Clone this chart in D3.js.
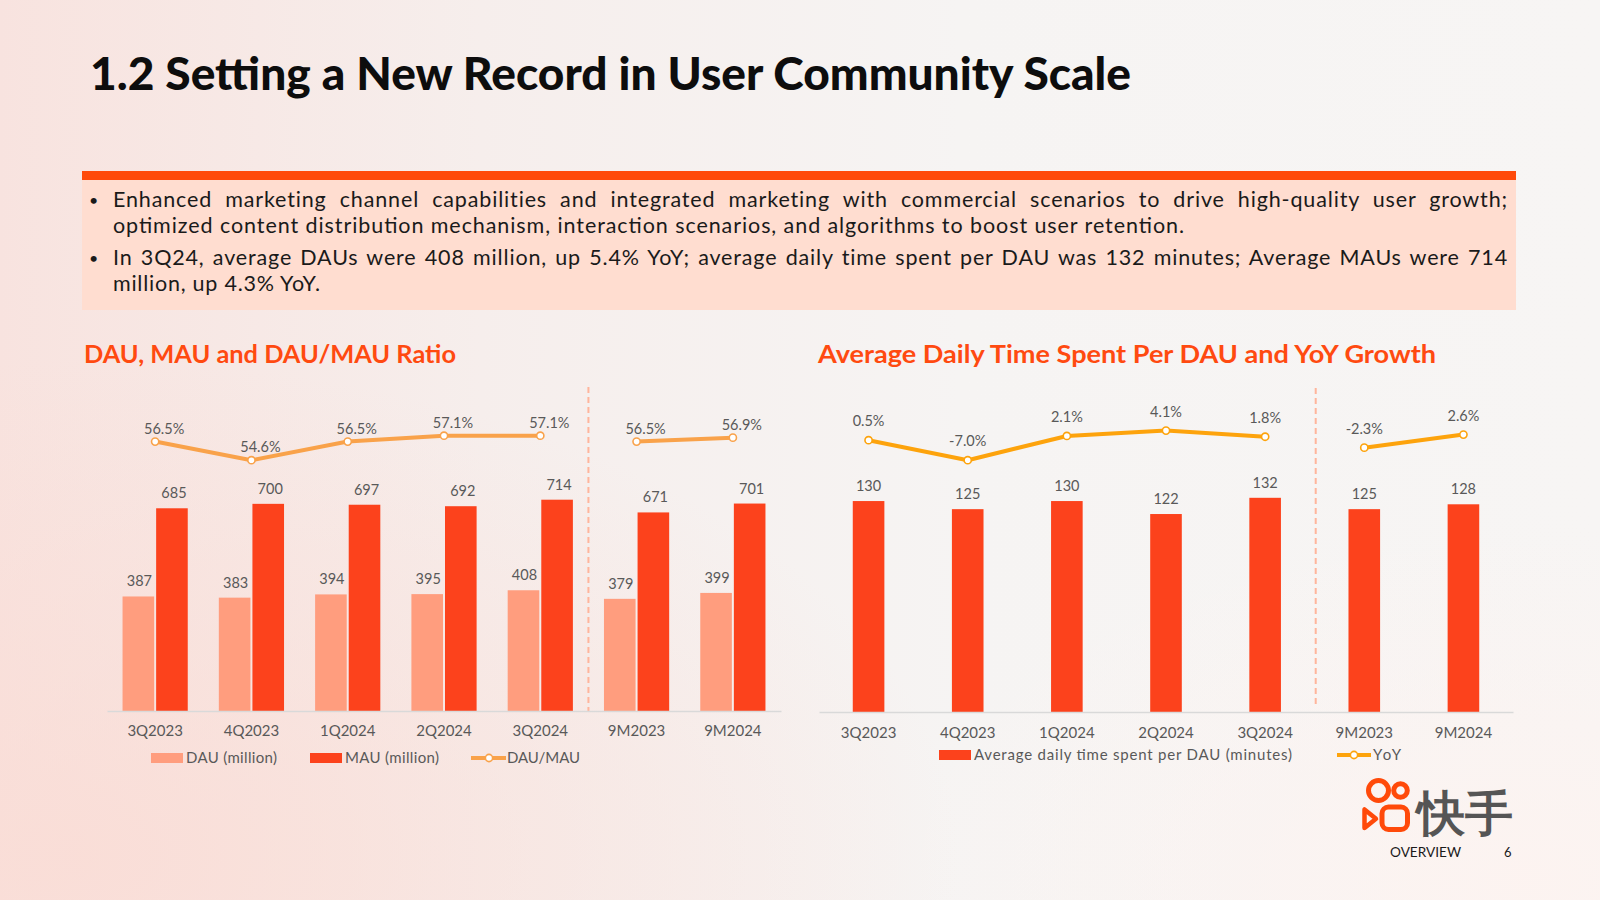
<!DOCTYPE html>
<html>
<head>
<meta charset="utf-8">
<script src="https://cdn.jsdelivr.net/npm/d3@7/dist/d3.min.js"></script>
<style>
  html, body { margin: 0; padding: 0; width: 1600px; height: 900px; overflow: hidden; background: #f6f3f2; }
  svg { display: block; }
  text { font-family: Lato, "Open Sans", "Noto Sans", sans-serif; }
</style>
</head>
<body>
<svg id="chart" width="1600" height="900"></svg>
<script>
// ---------------- DATA ----------------
const titleText = "1.2 Setting a New Record in User Community Scale";
const bulletLines = [
  ["Enhanced marketing channel capabilities and integrated marketing with commercial scenarios to drive high-quality user growth;",
   "optimized content distribution mechanism, interaction scenarios, and algorithms to boost user retention."],
  ["In 3Q24, average DAUs were 408 million, up 5.4% YoY; average daily time spent per DAU was 132 minutes; Average MAUs were 714",
   "million, up 4.3% YoY."]
];
const categories = ["3Q2023", "4Q2023", "1Q2024", "2Q2024", "3Q2024", "9M2023", "9M2024"];
const periodGroup = ["Q", "Q", "Q", "Q", "Q", "9M", "9M"];
const dauValues = [387, 383, 394, 395, 408, 379, 399];
const mauValues = [685, 700, 697, 692, 714, 671, 701];
const dauMauRatio = [56.5, 54.6, 56.5, 57.1, 57.1, 56.5, 56.9];
const timeSpentValues = [130, 125, 130, 122, 132, 125, 128];
const timeSpentYoY = [0.5, -7.0, 2.1, 4.1, 1.8, -2.3, 2.6];
const leftTitle = "DAU, MAU and DAU/MAU Ratio";
const rightTitle = "Average Daily Time Spent Per DAU and YoY Growth";
const leftLegend = ["DAU (million)", "MAU (million)", "DAU/MAU"];
const rightLegend = ["Average daily time spent per DAU (minutes)", "YoY"];

// ---------------- STYLE ----------------
const C = {
  dau: "#FF9D7E", mau: "#FC421C", lineL: "#F9A24A", lineR: "#FDA30C",
  text: "#595959", accent: "#FF4A10", bar: "#FF4A0A", box: "#FFDDD0",
  axis: "#D9D9D9", dash: "#FFB59C"
};

const svg = d3.select("#chart");
const defs = svg.append("defs");

// background
const bg = defs.append("linearGradient").attr("id", "bgL").attr("x1", 0).attr("x2", 1).attr("y1", 0).attr("y2", 0);
bg.append("stop").attr("offset", 0).attr("stop-color", "#F8E3DF");
bg.append("stop").attr("offset", 0.3).attr("stop-color", "#F6EEEC");
bg.append("stop").attr("offset", 0.6).attr("stop-color", "#F6F4F3");
bg.append("stop").attr("offset", 1).attr("stop-color", "#F7F5F4");
const rg = defs.append("radialGradient").attr("id", "bgR").attr("cx", 0.05).attr("cy", 0.95).attr("r", 0.55);
rg.append("stop").attr("offset", 0).attr("stop-color", "#FADCD5").attr("stop-opacity", 0.8);
rg.append("stop").attr("offset", 1).attr("stop-color", "#FADCD5").attr("stop-opacity", 0);
const rg2 = defs.append("radialGradient").attr("id", "bgR2").attr("cx", 0.95).attr("cy", 0.98).attr("r", 0.4);
rg2.append("stop").attr("offset", 0).attr("stop-color", "#FDF3F0").attr("stop-opacity", 0.9);
rg2.append("stop").attr("offset", 1).attr("stop-color", "#FDF3F0").attr("stop-opacity", 0);
svg.append("rect").attr("width", 1600).attr("height", 900).attr("fill", "url(#bgL)");
svg.append("rect").attr("width", 1600).attr("height", 900).attr("fill", "url(#bgR)");
svg.append("rect").attr("width", 1600).attr("height", 900).attr("fill", "url(#bgR2)");

// title
svg.append("text").attr("x", 90).attr("y", 90)
  .attr("font-size", 46).attr("font-weight", 900).attr("fill", "#0d0d0d")
  .attr("textLength", 1041).attr("lengthAdjust", "spacingAndGlyphs")
  .text(titleText);

// header band + box
svg.append("rect").attr("x", 82).attr("y", 171).attr("width", 1434).attr("height", 9).attr("fill", C.bar);
svg.append("rect").attr("x", 82).attr("y", 180).attr("width", 1434).attr("height", 130).attr("fill", C.box);

const lineYs = [[207, 232.5], [265, 290.5]];
const lastLineWidths = [1071, 207];
bulletLines.forEach((pair, i) => {
  svg.append("text").attr("x", 89).attr("y", lineYs[i][0] - 1).attr("font-size", 16).attr("fill", "#1a1a1a").text("•");
  pair.forEach((ln, j) => {
    const t = svg.append("text").attr("x", 113).attr("y", lineYs[i][j])
      .attr("font-size", 21.5).attr("fill", "#1a1a1a").style("letter-spacing", "0.85px").text(ln);
    if (j === 0) {
      const natural = t.node().getComputedTextLength();
      const spaces = (ln.match(/ /g) || []).length;
      t.style("word-spacing", ((1395 - natural) / spaces) + "px");
    } else {
      t.style("letter-spacing", null).attr("textLength", lastLineWidths[i]).attr("lengthAdjust", "spacing");
    }
  });
});

// chart titles
svg.append("text").attr("x", 84).attr("y", 363).attr("font-size", 25).attr("font-weight", 700)
  .attr("fill", C.accent).attr("textLength", 372).attr("lengthAdjust", "spacingAndGlyphs").text(leftTitle);
svg.append("text").attr("x", 818).attr("y", 363).attr("font-size", 25).attr("font-weight", 700)
  .attr("fill", C.accent).attr("textLength", 618).attr("lengthAdjust", "spacingAndGlyphs").text(rightTitle);

const idx = d3.range(categories.length);
const groups = d3.groups(idx, i => periodGroup[i]).map(g => g[1]);

function legendText(sel, x, y, txt, w) {
  return sel.append("text").attr("x", x).attr("y", y).attr("textLength", w).attr("lengthAdjust", "spacing").text(txt);
}

// ---------------- LEFT CHART ----------------
{
  const x = d3.scaleBand().domain(categories).range([107, 781]).padding(0);
  const y = d3.scaleLinear().domain([0, 714]).range([711, 499.7]);
  const yl = d3.scaleLinear().domain([54.6, 57.1]).range([460.2, 435.7]);
  const bw = 31.6, gap = 1;
  const g = svg.append("g");
  const cx = i => x(categories[i]) + x.bandwidth() / 2;

  g.append("line").attr("x1", x(categories[5])).attr("x2", x(categories[5]))
    .attr("y1", 387).attr("y2", 712).attr("stroke", C.dash).attr("stroke-width", 2).attr("stroke-dasharray", "6,4");

  g.selectAll(".dau").data(idx).join("rect")
    .attr("x", i => cx(i) - gap - bw).attr("width", bw)
    .attr("y", i => y(dauValues[i])).attr("height", i => y(0) - y(dauValues[i])).attr("fill", C.dau);
  g.selectAll(".mau").data(idx).join("rect")
    .attr("x", i => cx(i) + gap).attr("width", bw)
    .attr("y", i => y(mauValues[i])).attr("height", i => y(0) - y(mauValues[i])).attr("fill", C.mau);

  const lbl = { "font-size": 14.5, fill: C.text, "text-anchor": "middle" };
  const addText = (sel) => { Object.entries(lbl).forEach(([k, v]) => sel.attr(k, v)); return sel; };
  addText(g.selectAll(".dl").data(idx).join("text")
    .attr("x", i => cx(i) - gap - bw / 2 + 1).attr("y", i => y(dauValues[i]) - 10).text(i => dauValues[i]));
  addText(g.selectAll(".ml").data(idx).join("text")
    .attr("x", i => cx(i) + gap + bw / 2 + 2).attr("y", i => y(mauValues[i]) - 10).text(i => mauValues[i]));

  const axis = d3.axisBottom(x).tickSize(0).tickSizeOuter(0).tickPadding(14);
  const ax = g.append("g").attr("transform", "translate(0,711)").call(axis);
  ax.select(".domain").attr("stroke", C.axis).attr("stroke-width", 1.5);
  ax.selectAll("text").attr("font-size", 15).attr("fill", C.text).attr("font-family", "Lato, sans-serif");

  const line = d3.line().x(i => cx(i)).y(i => yl(dauMauRatio[i]));
  groups.forEach(gr => {
    g.append("path").attr("d", line(gr)).attr("fill", "none").attr("stroke", C.lineL)
      .attr("stroke-width", 4).attr("stroke-linejoin", "round");
  });
  g.selectAll(".pt").data(idx).join("circle")
    .attr("cx", i => cx(i)).attr("cy", i => yl(dauMauRatio[i])).attr("r", 3.6)
    .attr("fill", "#fff").attr("stroke", C.lineL).attr("stroke-width", 1.6);
  addText(g.selectAll(".rl").data(idx).join("text")
    .attr("x", i => cx(i) + 9).attr("y", i => yl(dauMauRatio[i]) - 8).text(i => dauMauRatio[i].toFixed(1) + "%"));

  const lg = g.append("g").attr("font-size", 15).attr("fill", C.text);
  lg.append("rect").attr("x", 151).attr("y", 753).attr("width", 32).attr("height", 10).attr("fill", C.dau);
  legendText(lg, 186, 763, leftLegend[0], 91);
  lg.append("rect").attr("x", 310).attr("y", 753).attr("width", 32).attr("height", 10).attr("fill", C.mau);
  legendText(lg, 345, 763, leftLegend[1], 94);
  lg.append("line").attr("x1", 471).attr("x2", 506).attr("y1", 758).attr("y2", 758).attr("stroke", C.lineL).attr("stroke-width", 4);
  lg.append("circle").attr("cx", 489).attr("cy", 758).attr("r", 3.6).attr("fill", "#fff").attr("stroke", C.lineL).attr("stroke-width", 1.6);
  legendText(lg, 507, 763, leftLegend[2], 73);
}

// ---------------- RIGHT CHART ----------------
{
  const x = d3.scaleBand().domain(categories).range([819, 1513]).padding(0);
  const y = d3.scaleLinear().domain([0, 132]).range([712, 497.8]);
  const yl = d3.scaleLinear().domain([-7.0, 4.1]).range([460.2, 430.6]);
  const bw = 31.6;
  const g = svg.append("g");
  const cx = i => x(categories[i]) + x.bandwidth() / 2;

  g.append("line").attr("x1", x(categories[5]) + 1).attr("x2", x(categories[5]) + 1)
    .attr("y1", 388).attr("y2", 705).attr("stroke", C.dash).attr("stroke-width", 2).attr("stroke-dasharray", "6,4");

  g.selectAll(".ts").data(idx).join("rect")
    .attr("x", i => cx(i) - bw / 2).attr("width", bw)
    .attr("y", i => y(timeSpentValues[i])).attr("height", i => y(0) - y(timeSpentValues[i])).attr("fill", C.mau);

  g.selectAll(".tl").data(idx).join("text")
    .attr("x", i => cx(i)).attr("y", i => y(timeSpentValues[i]) - 10)
    .attr("font-size", 14.5).attr("fill", C.text).attr("text-anchor", "middle").text(i => timeSpentValues[i]);

  const axis = d3.axisBottom(x).tickSize(0).tickSizeOuter(0).tickPadding(15);
  const ax = g.append("g").attr("transform", "translate(0,712)").call(axis);
  ax.select(".domain").attr("stroke", C.axis).attr("stroke-width", 1.5);
  ax.selectAll("text").attr("font-size", 15).attr("fill", C.text).attr("font-family", "Lato, sans-serif");

  const line = d3.line().x(i => cx(i)).y(i => yl(timeSpentYoY[i]));
  groups.forEach(gr => {
    g.append("path").attr("d", line(gr)).attr("fill", "none").attr("stroke", C.lineR)
      .attr("stroke-width", 4).attr("stroke-linejoin", "round");
  });
  g.selectAll(".pt").data(idx).join("circle")
    .attr("cx", i => cx(i)).attr("cy", i => yl(timeSpentYoY[i])).attr("r", 3.6)
    .attr("fill", "#fff").attr("stroke", C.lineR).attr("stroke-width", 1.6);
  g.selectAll(".yl").data(idx).join("text")
    .attr("x", i => cx(i)).attr("y", i => yl(timeSpentYoY[i]) - 14)
    .attr("font-size", 14.5).attr("fill", C.text).attr("text-anchor", "middle")
    .text(i => timeSpentYoY[i].toFixed(1) + "%");

  const lg = g.append("g").attr("font-size", 15).attr("fill", C.text);
  lg.append("rect").attr("x", 939).attr("y", 750).attr("width", 32).attr("height", 10).attr("fill", C.mau);
  legendText(lg, 974, 760, rightLegend[0], 318);
  lg.append("line").attr("x1", 1337).attr("x2", 1371).attr("y1", 755).attr("y2", 755).attr("stroke", C.lineR).attr("stroke-width", 4);
  lg.append("circle").attr("cx", 1354).attr("cy", 755).attr("r", 3.6).attr("fill", "#fff").attr("stroke", C.lineR).attr("stroke-width", 1.6);
  legendText(lg, 1373, 760, rightLegend[1], 28);
}

// ---------------- LOGO & FOOTER ----------------
{
  const lg = svg.append("g").attr("fill", "none").attr("stroke", "#FF4A0A").attr("stroke-width", 5)
    .attr("stroke-linejoin", "round");
  lg.append("circle").attr("cx", 1378.5).attr("cy", 790.5).attr("r", 10);
  lg.append("circle").attr("cx", 1400.5).attr("cy", 790.5).attr("r", 6.8);
  lg.append("rect").attr("x", 1382).attr("y", 807).attr("width", 25.5).attr("height", 22.5).attr("rx", 6.5);
  lg.append("path").attr("d", "M1364.5,809.5 L1364.5,828 L1376,818.8 Z").attr("stroke-width", 4.5);

  svg.append("text").attr("x", 1417).attr("y", 830).attr("font-size", 48).attr("font-weight", 700)
    .attr("font-family", "'Noto Sans CJK SC', sans-serif").attr("fill", "#555555").text("快手");
  svg.append("text").attr("x", 1390).attr("y", 856.5).attr("font-size", 13).attr("fill", "#1a1a1a")
    .attr("textLength", 71).attr("lengthAdjust", "spacingAndGlyphs").text("OVERVIEW");
  svg.append("text").attr("x", 1504).attr("y", 856.5).attr("font-size", 13).attr("fill", "#1a1a1a").text("6");
}
</script>
</body>
</html>
